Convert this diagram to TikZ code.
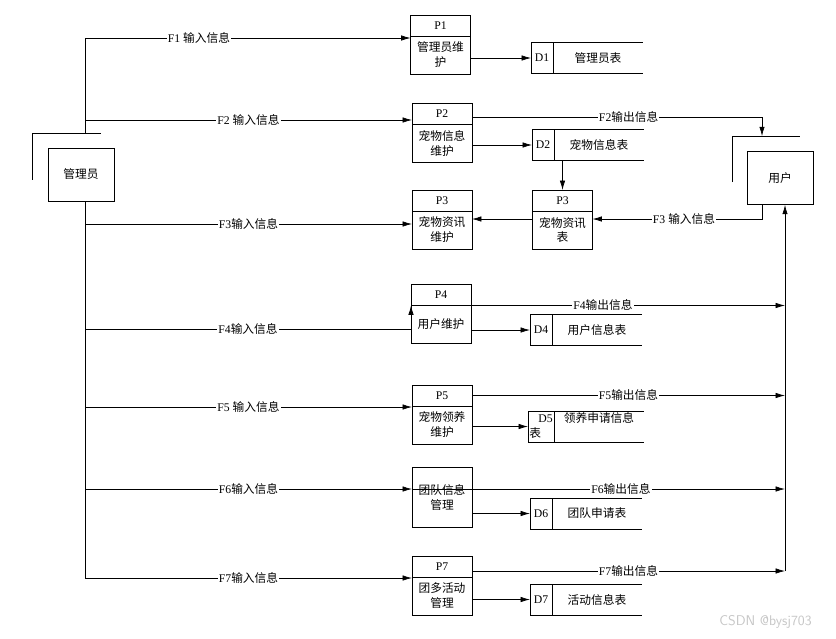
\documentclass[tikz,border=0pt]{standalone}
\usepackage{fontspec}
\setmainfont{Liberation Serif}
\newfontfamily\cjkfont{Noto Sans CJK SC}
\usetikzlibrary{arrows.meta,positioning}

\begin{document}
\fontsize{10}{12.8}\selectfont
\begin{tikzpicture}[x=0.03cm,y=-0.03cm,>={Latex[length=8pt,width=4.6pt]},line width=0.6pt]
\tikzstyle{entity} = [rectangle, draw, minimum width=1.98cm, minimum height=1.59cm, font=\cjkfont]
\tikzstyle{proc} = [rectangle, draw, minimum width=1.8cm, minimum height=1.14cm,
align=center, inner sep=1pt, outer sep=0pt, font=\cjkfont]
\tikzstyle{prochead} = [rectangle, draw, minimum width=1.8cm, minimum height=0.63cm, inner sep=1pt, outer sep=0pt]
\tikzstyle{storeid} = [rectangle, draw, minimum width=0.66cm, minimum height=0.93cm, inner sep=1pt, outer sep=0pt]
\tikzstyle{storename} = [rectangle, minimum width=2.7cm, minimum height=0.93cm, outer sep=0pt, font=\cjkfont]
\tikzstyle{line} = [draw, ->]
\tikzstyle{flow} = [fill=white, inner sep=1pt]

\useasboundingbox (0,0) rectangle (836,638);

% external entities
\node [entity] (admin) at (81,174.5) {管理员};
\node [entity] (user) at (780,178) {用户};
\coordinate (abr) at ([shift={(-15,-14)}]admin.north west);
\coordinate (ubr) at ([shift={(-14,-15)}]user.north west);
\draw ([yshift=-1.38cm]abr) -- (abr) -- ++(68,0);
\draw ([yshift=-1.38cm]ubr) -- (ubr) -- ++(67,0);

% processes
\node [proc] (p1) at (440.5,55) {管理员维\\护};
\node [prochead, above=0pt of p1] (p1h) {P1};
\node [proc] (p2) at (442,143.5) {宠物信息\\维护};
\node [prochead, above=0pt of p2] (p2h) {P2};
\node [proc] (p3) at (442,230) {宠物资讯\\维护};
\node [prochead, above=0pt of p3] (p3h) {P3};
\node [proc] (p3t) at (562.5,230) {宠物资讯\\表};
\node [prochead, above=0pt of p3t] (p3th) {P3};
\node [proc] (p4) at (441,324.5) {用户维护};
\node [prochead, above=0pt of p4] (p4h) {P4};
\node [proc] (p5) at (442,425) {宠物领养\\维护};
\node [prochead, above=0pt of p5] (p5h) {P5};
\node [proc, minimum height=1.8cm] (p6) at (442,497) {团队信息\\管理};
\node [proc] (p7) at (442,596) {团多活动\\管理};
\node [prochead, above=0pt of p7] (p7h) {P7};

% data stores
\node [storeid] (d1) at (542,58) {D1};
\node [storename, right=0pt of d1] (t1) {管理员表};
\node [storeid] (d2) at (543,145) {D2};
\node [storename, right=0pt of d2] (t2) {宠物信息表};
\node [storeid] (d4) at (541,330) {D4};
\node [storename, right=0pt of d4] (t4) {用户信息表};
\node [storeid, minimum width=0.78cm, text width=0.7cm, align=left] (d5) at (541,426.5) {\hfill D5\\{\cjkfont 表}};
\node [storename, right=0pt of d5, inner ysep=0pt, text height=0.3cm, text depth=0.55cm] (t5) {领养申请信息};
\node [storeid] (d6) at (541,513.5) {D6};
\node [storename, right=0pt of d6] (t6) {团队申请表};
\node [storeid] (d7) at (541,599.5) {D7};
\node [storename, right=0pt of d7] (t7) {活动信息表};
\foreach \i in {1,2,4,5,6,7}
  \draw (d\i.north west) -- (t\i.north east) (d\i.south west) -- (t\i.south east);

% process -> store
\foreach \i in {1,2,4,5,6,7}
  \path[line] (p\i.east |- d\i.west) -- (d\i.west);
\path[line] (t2.south -| p3th.north) -- (p3th.north);

% admin inputs
\coordinate (b1) at (85,38);
\coordinate (b2) at (85,120);
\coordinate (b3) at (85,224);
\coordinate (b4) at (85,329);
\coordinate (b5) at (85,407);
\coordinate (b6) at (85,489);
\coordinate (b7) at (85,578);
\draw (b1) -- (b1 |- abr);
\draw (b1 |- admin.south) -- (b7);
\path[line] (b1) -- node[flow, pos=0.35] {F1 \cjkfont 输入信息} (b1 -| p1.west);
\path[line] (b2) -- node[flow] {F2 \cjkfont 输入信息} (b2 -| p2h.west);
\path[line] (b3) -- node[flow] {F3\cjkfont 输入信息} (b3 -| p3.west);
\path[line] (b4) -| node[flow, pos=0.25] {F4\cjkfont 输入信息} (p4.north west);
\path[line] (b5) -- node[flow] {F5 \cjkfont 输入信息} (b5 -| p5.west);
\path[line] (b6) -- node[flow] {F6\cjkfont 输入信息} (b6 -| p6.west);
\path[line] (b7) -- node[flow] {F7\cjkfont 输入信息} (b7 -| p7.west);

% user side
\coordinate (f2) at (762,117);
\coordinate (f3) at (762,219);
\coordinate (r7) at (785,571);
\path[line] (r7) -- (r7 |- user.south);
\path[line] (f2 -| p2.east) -- node[flow, pos=0.54] {F2\cjkfont 输出信息} (f2) -- (f2 |- ubr);
\path[line] (f3 |- user.south) -- (f3) -- node[flow, pos=0.46] {F3 \cjkfont 输入信息} (f3 -| p3t.east);
\path[line] (f3 -| p3t.west) -- (f3 -| p3.east);
\path[line] (p4.north east) -- node[flow, pos=0.42] {F4\cjkfont 输出信息} (p4.north east -| r7);
\path[line] (p5h.east) -- node[flow] {F5\cjkfont 输出信息} (p5h.east -| r7);
\path[line] (b6 -| p6.west) -- node[flow, pos=0.56] {F6\cjkfont 输出信息} (b6 -| r7);
\path[line] (r7 -| p7.east) -- node[flow] {F7\cjkfont 输出信息} (r7);

\node [text=gray!45, font=\sffamily\fontsize{12}{14}\selectfont] (mark) at (765.5,622) {CSDN @bysj703};
\end{tikzpicture}
\end{document}
